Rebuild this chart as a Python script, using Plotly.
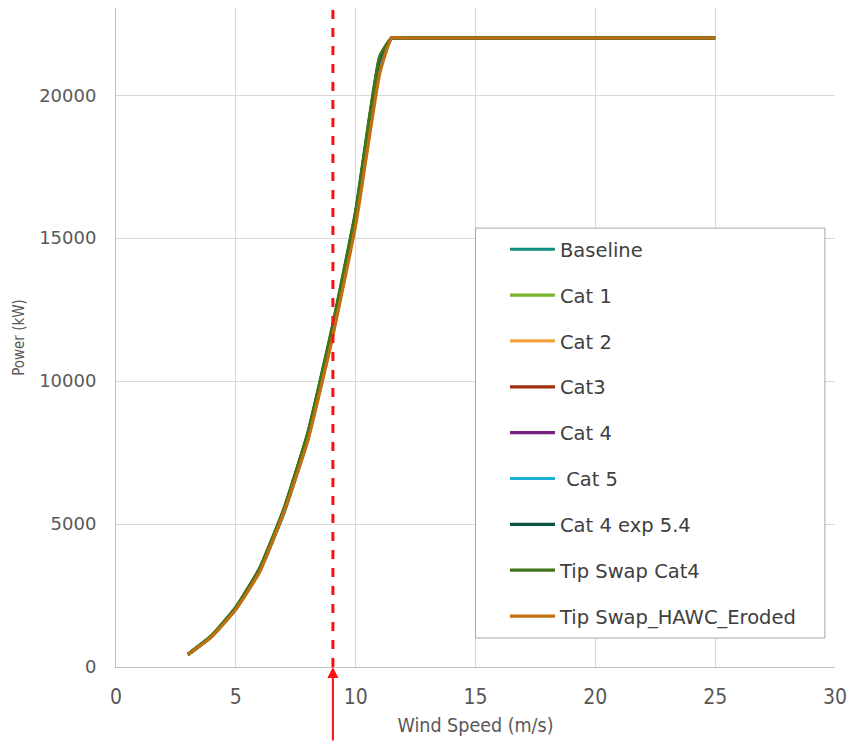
import plotly.graph_objects as go

wind_speed = [3, 4, 5, 6, 7, 8, 9, 10, 11, 11.5, 12, 13, 14, 15, 16, 17, 18, 19, 20, 21, 22, 23, 24, 25]

baseline = [440, 1100, 2080, 3450, 5500, 8150, 11750, 15900, 21300, 22000, 22000, 22000, 22000, 22000, 22000, 22000, 22000, 22000, 22000, 22000, 22000, 22000, 22000, 22000]
cat1 = [440, 1095, 2070, 3440, 5480, 8120, 11700, 15850, 21250, 22000, 22000, 22000, 22000, 22000, 22000, 22000, 22000, 22000, 22000, 22000, 22000, 22000, 22000, 22000]
cat2 = [438, 1090, 2060, 3420, 5450, 8080, 11650, 15780, 21150, 22000, 22000, 22000, 22000, 22000, 22000, 22000, 22000, 22000, 22000, 22000, 22000, 22000, 22000, 22000]
cat3 = [436, 1085, 2050, 3400, 5420, 8030, 11580, 15700, 21050, 22000, 22000, 22000, 22000, 22000, 22000, 22000, 22000, 22000, 22000, 22000, 22000, 22000, 22000, 22000]
cat4 = [434, 1080, 2040, 3380, 5390, 7990, 11520, 15620, 20950, 22000, 22000, 22000, 22000, 22000, 22000, 22000, 22000, 22000, 22000, 22000, 22000, 22000, 22000, 22000]
cat5 = [432, 1075, 2030, 3360, 5360, 7950, 11460, 15550, 20850, 22000, 22000, 22000, 22000, 22000, 22000, 22000, 22000, 22000, 22000, 22000, 22000, 22000, 22000, 22000]
cat4_exp54 = [438, 1098, 2075, 3445, 5490, 8140, 11730, 15880, 21280, 22000, 22000, 22000, 22000, 22000, 22000, 22000, 22000, 22000, 22000, 22000, 22000, 22000, 22000, 22000]
tip_swap_cat4 = [440, 1102, 2085, 3460, 5520, 8180, 11800, 15950, 21350, 22000, 22000, 22000, 22000, 22000, 22000, 22000, 22000, 22000, 22000, 22000, 22000, 22000, 22000, 22000]
tip_swap_hawc_eroded = [430, 1065, 2010, 3330, 5400, 7900, 11400, 15450, 20750, 22000, 22000, 22000, 22000, 22000, 22000, 22000, 22000, 22000, 22000, 22000, 22000, 22000, 22000, 22000]

series_names = ["Baseline", "Cat 1", "Cat 2", "Cat3", "Cat 4", " Cat 5",
                "Cat 4 exp 5.4", "Tip Swap Cat4", "Tip Swap_HAWC_Eroded"]
series_values = [baseline, cat1, cat2, cat3, cat4, cat5, cat4_exp54,
                 tip_swap_cat4, tip_swap_hawc_eroded]
series_colors = ["#12907f", "#7ab52e", "#f4a23c", "#a2300c", "#7a1e80",
                 "#1eb0d2", "#0b5545", "#3f7417", "#c2700f"]

marker_speed = 9.05

x_ticks = [0, 5, 10, 15, 20, 25, 30]
y_ticks = [0, 5000, 10000, 15000, 20000]

cond = "DejaVu Sans Condensed, Liberation Sans Narrow, sans-serif"

fig = go.Figure()
for i, (name, vals, col) in enumerate(zip(series_names, series_values, series_colors)):
    fig.add_trace(go.Scatter(
        x=wind_speed, y=vals, mode="lines", name=name,
        line=dict(color=col, width=3.2, shape="spline", smoothing=0.4),
        legendgroup="g%d" % i,
    ))

# legend box
fig.add_shape(type="rect", xref="paper", yref="paper",
              x0=0.5, x1=0.986, y0=0.044, y1=0.666,
              line=dict(color="#a6a6a6", width=1), fillcolor="white", layer="above")

# red dashed line
fig.add_shape(type="line", xref="x", yref="paper",
              x0=marker_speed, x1=marker_speed, y0=0.0, y1=1.0,
              line=dict(color="#ff1010", width=3, dash="dash"), layer="above")

# red arrow from below the axis
fig.add_annotation(x=marker_speed, y=0, xref="x", yref="y",
                   ax=0, ay=76, axref="pixel", ayref="pixel",
                   showarrow=True, arrowhead=2, arrowsize=1.1, arrowwidth=2,
                   arrowcolor="#ff1010", text="", standoff=0)

fig.update_layout(
    width=855, height=742,
    margin=dict(l=116, r=15, t=8, b=75),
    paper_bgcolor="white", plot_bgcolor="white",
    showlegend=True,
    legend=dict(
        x=0.541, y=0.663, xanchor="left", yanchor="top",
        bgcolor="rgba(0,0,0,0)", borderwidth=0,
        font=dict(family="DejaVu Sans", size=19.5, color="#404040"),
        traceorder="grouped", tracegroupgap=17.5, itemwidth=45,
    ),
    xaxis=dict(
        range=[0, 30], tickvals=x_ticks, ticktext=[str(v) for v in x_ticks],
        showgrid=True, gridcolor="#d9d9d9", gridwidth=1,
        showline=True, linecolor="#bfbfbf", linewidth=1,
        zeroline=False, ticks="", ticklabelstandoff=11,
        tickfont=dict(family=cond, size=21, color="#595959"),
        title=dict(text="Wind Speed (m/s)", standoff=10,
                   font=dict(family=cond, size=19.5, color="#595959")),
    ),
    yaxis=dict(
        range=[0, 23050], tickvals=y_ticks, ticktext=[str(v) for v in y_ticks],
        showgrid=True, gridcolor="#d9d9d9", gridwidth=1,
        showline=True, linecolor="#bfbfbf", linewidth=1,
        zeroline=False, ticks="", ticklabelstandoff=15,
        tickfont=dict(family="DejaVu Sans", size=18, color="#595959"),
        title=dict(text="Power (kW)", standoff=10,
                   font=dict(family=cond, size=15, color="#595959")),
    ),
)

fig.write_html("out.html")
